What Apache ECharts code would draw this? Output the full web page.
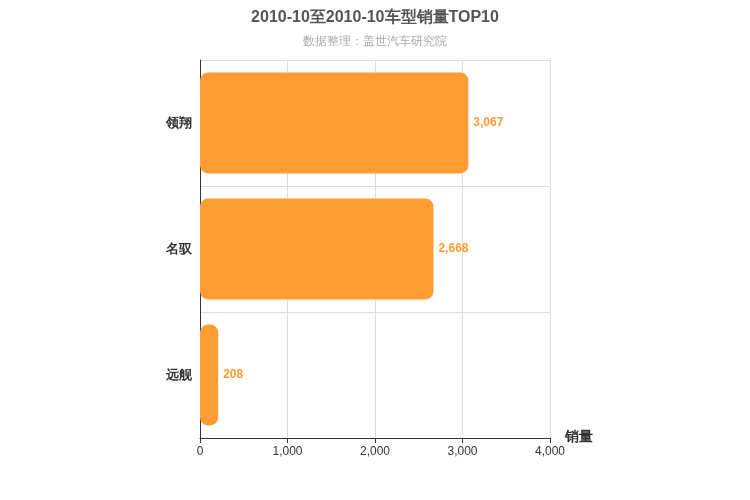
<!DOCTYPE html>
<html><head><meta charset="utf-8">
<script src="https://cdn.jsdelivr.net/npm/echarts@6/dist/echarts.min.js"></script>
<style>html,body{margin:0;padding:0}#c{width:750px;height:500px}</style>
</head><body><div id="c"></div>
<script>
const categories = ['远舰', '名驭', '领翔'];
const sales = [208, 2668, 3067];
const xTicks = [0, 1000, 2000, 3000, 4000];
const chart = echarts.init(document.getElementById('c'));
chart.setOption({
  title: {
    text: '2010-10至2010-10车型销量TOP10', subtext: '数据整理：盖世汽车研究院', left: 'center', top: 5,
    textStyle: { fontSize: 16, fontWeight: 'bold', color: '#555' },
    subtextStyle: { fontSize: 12, color: '#aaa' }, itemGap: 10
  },
  grid: { left: 200, right: 200, top: 60, bottom: 62 },
  xAxis: {
    type: 'value', min: xTicks[0], max: xTicks[xTicks.length - 1], interval: 1000,
    name: '销量', nameGap: 15, nameTextStyle: { fontSize: 14, fontWeight: 'bold', color: '#333', verticalAlign: 'top', padding: [-8, 0, 0, 0] },
    axisLine: { show: true, lineStyle: { color: '#333' } }, axisTick: { show: true },
    axisLabel: { color: '#333' }, splitLine: { lineStyle: { color: '#ddd' } }
  },
  yAxis: {
    type: 'category', data: categories,
    axisLine: { lineStyle: { color: '#333' } },
    axisLabel: { fontSize: 13, fontWeight: 'bold', color: '#333' },
    splitLine: { show: true, lineStyle: { color: '#ddd' } }
  },
  series: [{
    type: 'bar', data: sales, barWidth: '80%',
    itemStyle: { color: '#ff9c33', borderRadius: 8 },
    label: { show: true, position: 'right', color: '#ff9c33', fontWeight: 'bold', fontSize: 12,
      formatter: p => p.value.toLocaleString('en-US') }
  }]
});
</script></body></html>
